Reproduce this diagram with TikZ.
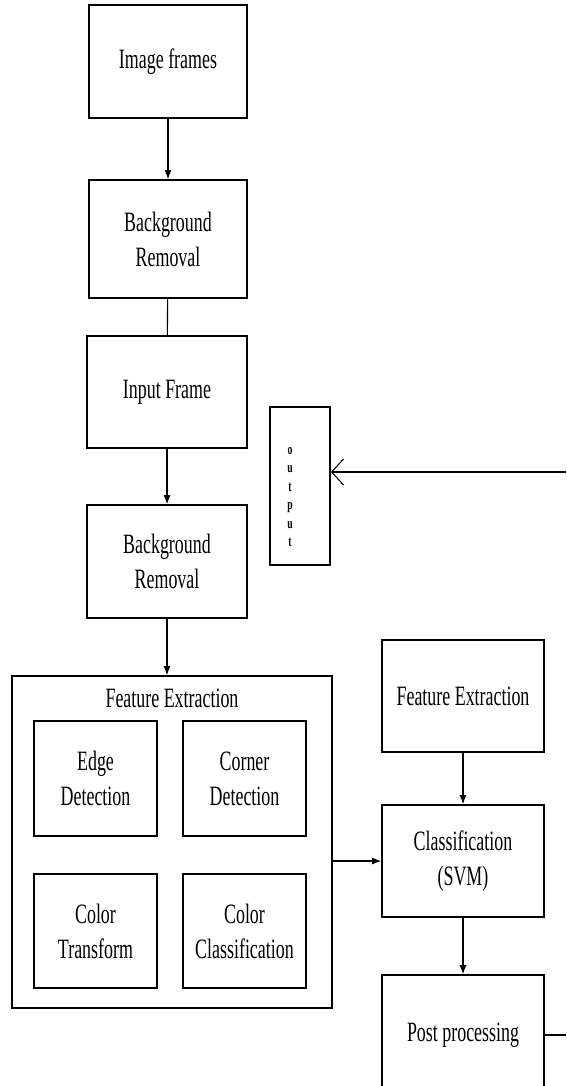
\documentclass[tikz,border=0pt]{standalone}
\usepackage{fontspec}
\setmainfont{Liberation Serif}[FakeStretch=0.64]
\usetikzlibrary{arrows.meta}
\tikzset{
  block/.style = {rectangle, draw, line width=1.6pt, align=center, inner sep=0pt,
                  font=\fontsize{28}{35}\selectfont},
  flow/.style = {line width=1.1pt, -{Latex[length=9pt,width=7pt]}},
  plain/.style = {line width=1.1pt}
}
\begin{document}
\begin{tikzpicture}[x=1pt,y=-1pt]
\useasboundingbox (0,0) rectangle (566,1086);

% -- left column
\node[block, minimum width=158, minimum height=113] (img) at (168,61.5) {Image frames};
\node[block, minimum width=158, minimum height=118] (bgA) at (168,239) {Background\\Removal};
\node[block, minimum width=160, minimum height=112] (inp) at (167,392) {Input Frame};
\node[block, minimum width=160, minimum height=113] (bgB) at (167,561.5) {Background\\Removal};

% -- feature extraction group
\node[block, minimum width=320, minimum height=332] (fe) at (172,842) {};
\node[font=\fontsize{28}{35}\selectfont] (fetitle) at (172,698) {Feature Extraction};
\node[block, minimum width=123, minimum height=115] (edge) at (95.5,778.5) {Edge\\Detection};
\node[block, minimum width=123, minimum height=115] (corner) at (244.5,778.5) {Corner\\Detection};
\node[block, minimum width=123, minimum height=114] (ctrans) at (95.5,931) {Color\\Transform};
\node[block, minimum width=123, minimum height=114] (cclass) at (244.5,931) {Color\\Classification};

% -- right column
\node[block, minimum width=162, minimum height=112] (feB) at (463,696) {Feature Extraction};
\node[block, minimum width=162, minimum height=112] (svm) at (463,861) {Classification\\(SVM)};
\node[block, minimum width=162, minimum height=120] (post) at (463,1035) {Post processing};

% -- output
\node[rectangle, draw, line width=1.6pt, minimum width=60, minimum height=158] (out) at (300,486) {};
\node[align=center, inner sep=0pt, font=\bfseries\fontsize{15}{18.5}\selectfont] (outtxt) at (290,497) {o\\u\\t\\p\\u\\t};
\coordinate (outin) at (566,472);
\coordinate (postout) at (566,1035);

% -- connectors
\draw[flow] (img) -- (bgA);
\draw[plain] (bgA) -- (inp);
\draw[flow] (inp) -- (bgB);
\draw[flow] (bgB.south) -- (bgB.south |- fe.north);
\draw[flow] (fe.east |- svm.west) -- (svm.west);
\draw[flow] (feB) -- (svm);
\draw[flow] (svm) -- (post);
\draw[plain] (post.east) -- (postout);
\draw[line width=1.1pt, -{Straight Barb[length=12pt,width=26pt]}] (outin) -- (out.east |- outin);

\end{tikzpicture}
\end{document}
